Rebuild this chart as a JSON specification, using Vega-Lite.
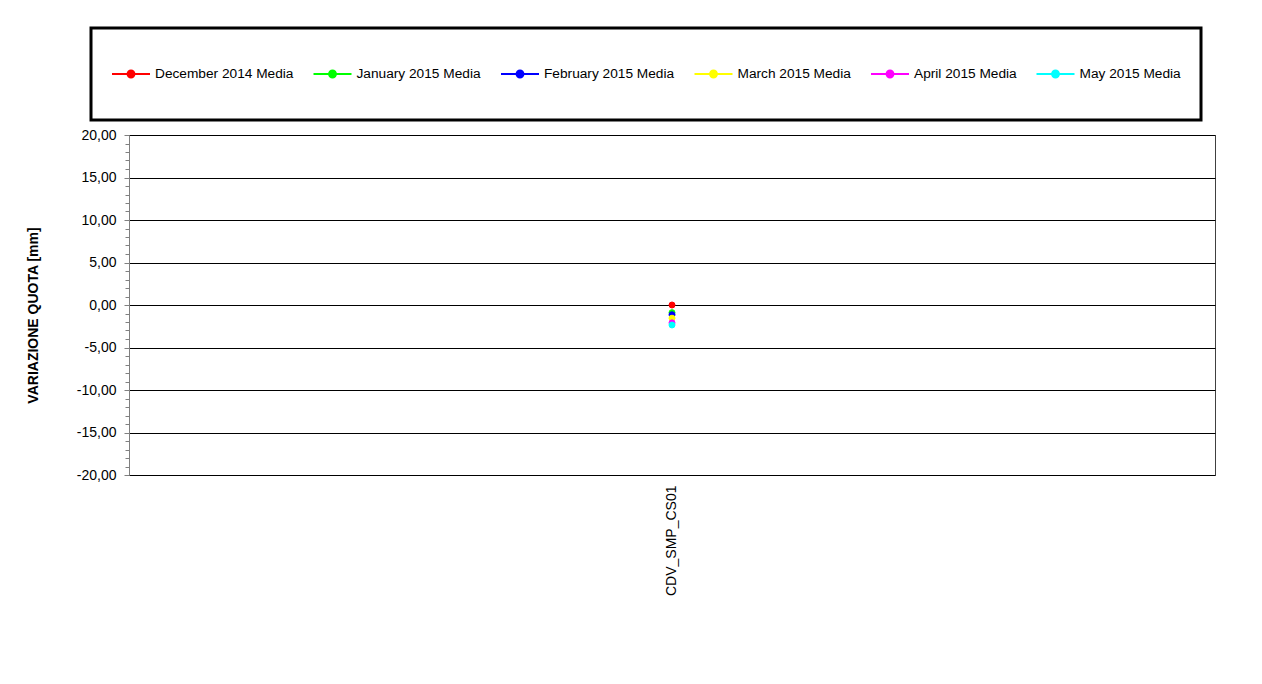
{
  "$schema": "https://vega.github.io/schema/vega-lite/v6.json",
  "autosize": {"type": "none"},
  "width": 1086,
  "height": 340,
  "padding": {"left": 129, "top": 135, "right": 47, "bottom": 209},
  "background": "white",
  "config": {
    "font": "Liberation Sans",
    "view": {"stroke": "#404040", "strokeWidth": 1}
  },
  "data": {
    "values": [
      {"sensor": "CDV_SMP_CS01", "serie": "December 2014 Media", "variazione": 0.0},
      {"sensor": "CDV_SMP_CS01", "serie": "January 2015 Media", "variazione": -0.9},
      {"sensor": "CDV_SMP_CS01", "serie": "February 2015 Media", "variazione": -1.15},
      {"sensor": "CDV_SMP_CS01", "serie": "March 2015 Media", "variazione": -1.55},
      {"sensor": "CDV_SMP_CS01", "serie": "April 2015 Media", "variazione": -2.1},
      {"sensor": "CDV_SMP_CS01", "serie": "May 2015 Media", "variazione": -2.35}
    ]
  },
  "mark": {"type": "point", "shape": "circle", "filled": true, "size": 36, "strokeWidth": 1, "opacity": 1},
  "encoding": {
    "x": {
      "field": "sensor",
      "type": "nominal",
      "scale": {"type": "band", "paddingInner": 0, "paddingOuter": 0},
      "axis": {
        "title": null,
        "labelAngle": -90,
        "labelFontSize": 14,
        "labelColor": "#000000",
        "labelPadding": 10,
        "ticks": false,
        "domain": false,
        "grid": false
      }
    },
    "y": {
      "field": "variazione",
      "type": "quantitative",
      "scale": {"domain": [-20, 20], "nice": false, "zero": false},
      "axis": {
        "title": "VARIAZIONE QUOTA  [mm]",
        "titleFontSize": 14,
        "titleFontWeight": "bold",
        "titleColor": "#000000",
        "titleAngle": -90,
        "titleAlign": "center",
        "titleBaseline": "middle",
        "titleX": -96,
        "titleY": 180,
        "values": [-20, -19, -18, -17, -16, -15, -14, -13, -12, -11, -10, -9, -8, -7, -6, -5, -4, -3, -2, -1, 0, 1, 2, 3, 4, 5, 6, 7, 8, 9, 10, 11, 12, 13, 14, 15, 16, 17, 18, 19, 20],
        "labelExpr": "datum.value % 5 === 0 ? replace(replace(format(datum.value, '.2f'), '.', ','), '\u2212', '-') : ''",
        "labelFontSize": 14,
        "labelColor": "#000000",
        "labelPadding": 8,
        "tickSize": {"condition": {"test": "datum.value % 5 === 0", "value": 5}, "value": 4},
        "tickColor": "#808080",
        "domainColor": "#808080",
        "grid": true,
        "gridColor": "#000000",
        "gridWidth": 1,
        "gridOpacity": {"condition": {"test": "datum.value % 5 === 0", "value": 1}, "value": 0},
        "labelOverlap": false
      }
    },
    "fill": {
      "field": "serie",
      "type": "nominal",
      "scale": {
        "domain": ["December 2014 Media", "January 2015 Media", "February 2015 Media", "March 2015 Media", "April 2015 Media", "May 2015 Media"],
        "range": ["#ff0000", "#00ff00", "#0000ff", "#ffff00", "#ff00ff", "#00ffff"]
      },
      "legend": {
        "title": null,
        "orient": "none",
        "legendX": -38,
        "legendY": -107,
        "direction": "horizontal",
        "columns": 6,
        "columnPadding": 18.5,
        "padding": 20,
        "clipHeight": 52,
        "strokeColor": "#000000",
        "fillColor": "#ffffff",
        "symbolType": "M-1,0H1M-0.18,0A0.18,0.18,0,1,0,0.18,0A0.18,0.18,0,1,0,-0.18,0Z",
        "symbolSize": 1444,
        "symbolStrokeWidth": 2,
        "symbolOpacity": 1,
        "labelFontSize": 13.7,
        "labelColor": "#000000",
        "labelOffset": 4,
        "labelLimit": 300,
        "encode": {"legend": {"update": {"strokeWidth": {"value": 3}}}}
      }
    },
    "stroke": {
      "field": "serie",
      "type": "nominal",
      "scale": {
        "domain": ["December 2014 Media", "January 2015 Media", "February 2015 Media", "March 2015 Media", "April 2015 Media", "May 2015 Media"],
        "range": ["#ff0000", "#00ff00", "#0000ff", "#ffff00", "#ff00ff", "#00ffff"]
      },
      "legend": {
        "title": null,
        "orient": "none",
        "legendX": -38,
        "legendY": -107,
        "direction": "horizontal",
        "columns": 6,
        "columnPadding": 18.5,
        "padding": 20,
        "clipHeight": 52,
        "strokeColor": "#000000",
        "fillColor": "#ffffff",
        "symbolType": "M-1,0H1M-0.18,0A0.18,0.18,0,1,0,0.18,0A0.18,0.18,0,1,0,-0.18,0Z",
        "symbolSize": 1444,
        "symbolStrokeWidth": 2,
        "symbolOpacity": 1,
        "labelFontSize": 13.7,
        "labelColor": "#000000",
        "labelOffset": 4,
        "labelLimit": 300,
        "encode": {"legend": {"update": {"strokeWidth": {"value": 3}}}}
      }
    }
  }
}
